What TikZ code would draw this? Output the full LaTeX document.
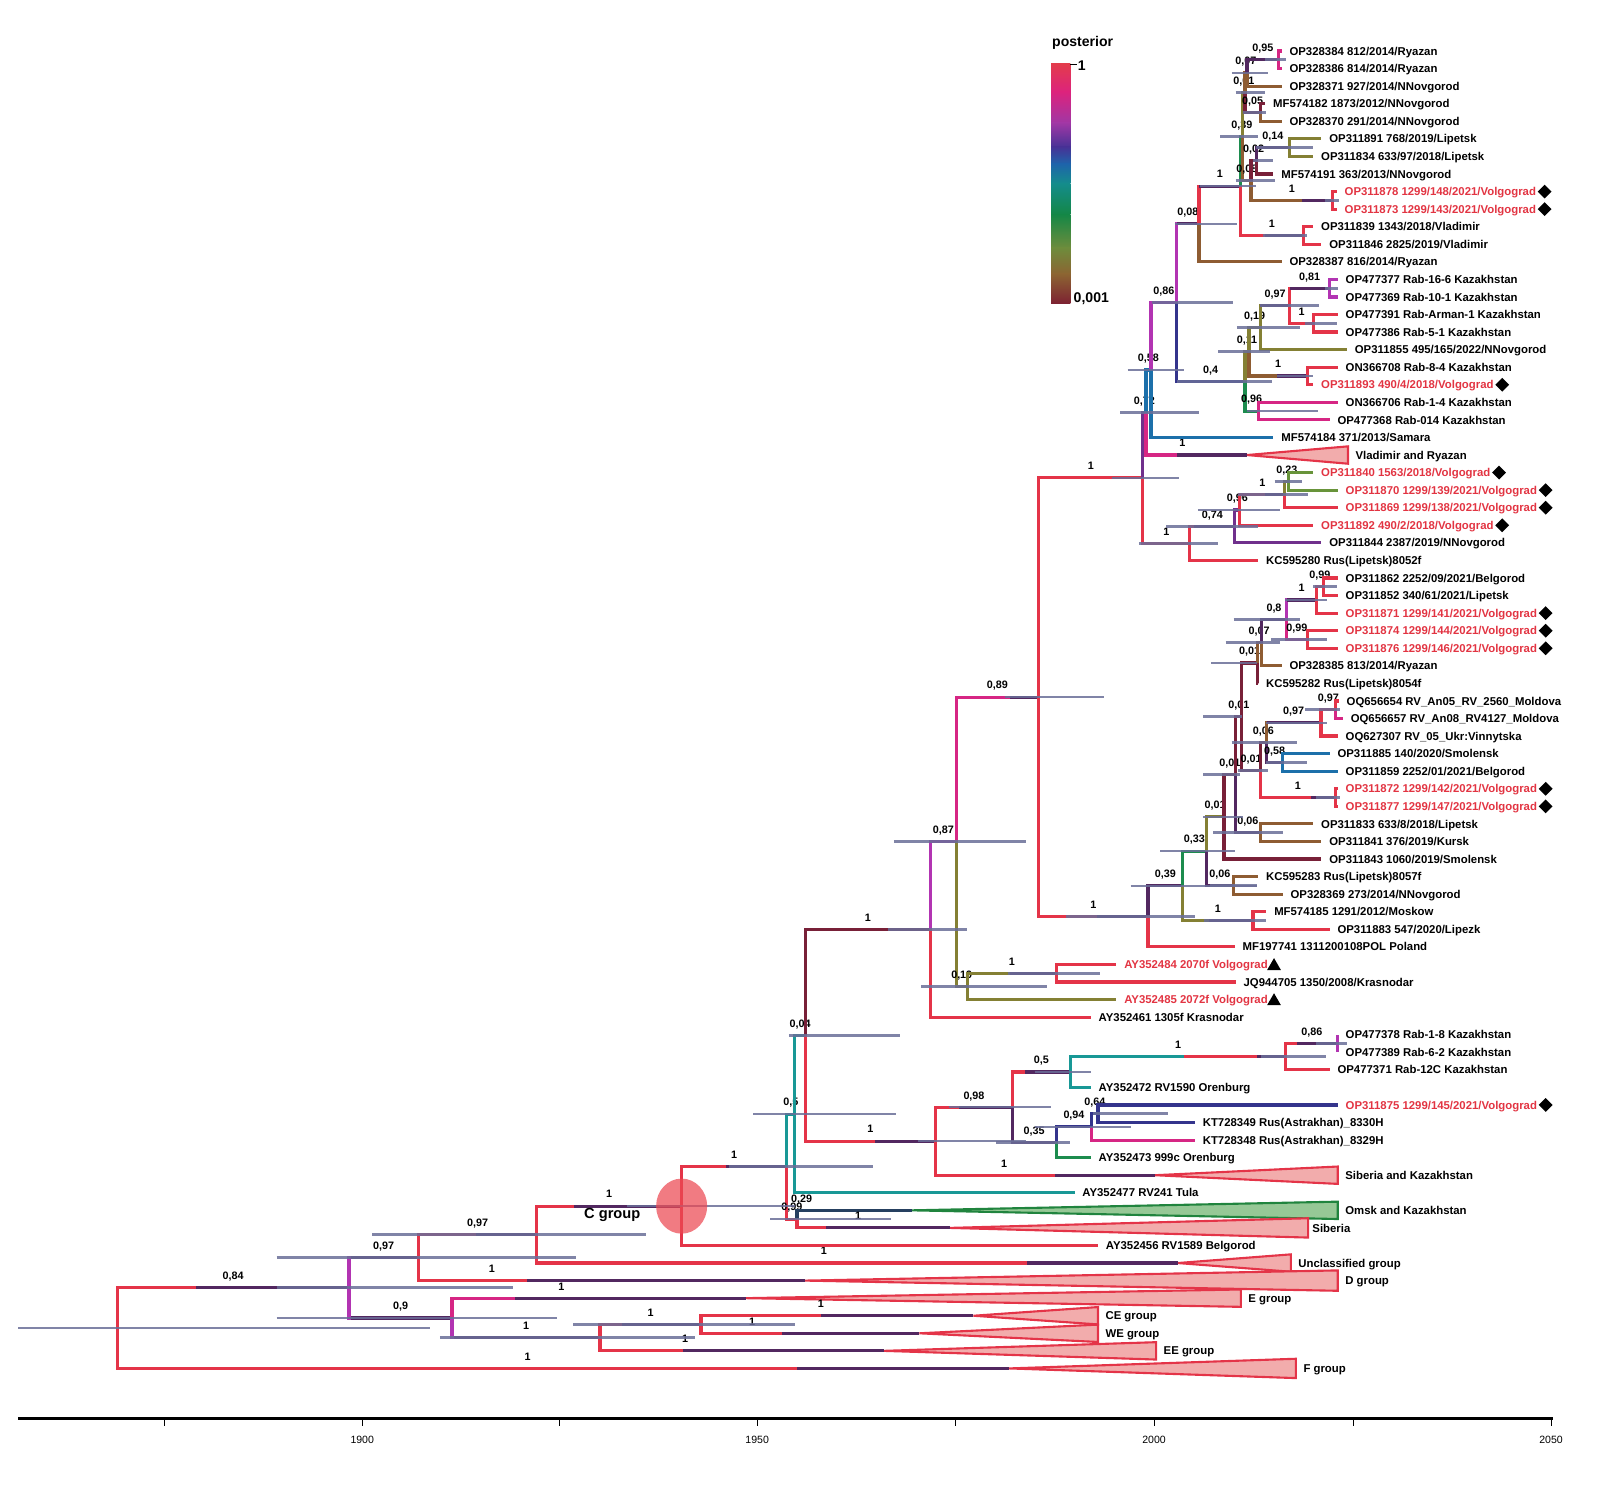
\documentclass[tikz,border=0pt]{standalone}
\usepackage{fontspec}
\setmainfont{Liberation Sans}
\usetikzlibrary{positioning, shapes.geometric}

\definecolor{cred}{RGB}{228,52,72}
\definecolor{cmag}{RGB}{214,38,132}
\definecolor{cpur}{RGB}{178,52,178}
\definecolor{cviol}{RGB}{112,48,140}
\definecolor{cdark}{RGB}{82,40,96}
\definecolor{cindigo}{RGB}{52,52,140}
\definecolor{cblue}{RGB}{28,112,170}
\definecolor{cteal}{RGB}{24,152,150}
\definecolor{cgreen}{RGB}{28,140,78}
\definecolor{cygreen}{RGB}{104,148,58}
\definecolor{colive}{RGB}{132,128,52}
\definecolor{cbrown}{RGB}{142,92,50}
\definecolor{cmaroon}{RGB}{120,32,56}
\definecolor{cnavy}{RGB}{38,64,96}
\definecolor{hpdc}{RGB}{106,110,152}
\definecolor{tripink}{RGB}{242,172,172}
\definecolor{trigreen}{RGB}{150,200,150}
\definecolor{trigreenl}{RGB}{32,132,62}
\definecolor{lblred}{RGB}{226,52,66}
\definecolor{cgrpfill}{RGB}{236,72,82}
\definecolor{k0}{RGB}{227,60,75}
\definecolor{k1}{RGB}{220,35,125}
\definecolor{k2}{RGB}{160,55,165}
\definecolor{k3}{RGB}{70,50,150}
\definecolor{k4}{RGB}{30,100,170}
\definecolor{k5}{RGB}{20,140,140}
\definecolor{k6}{RGB}{20,135,70}
\definecolor{k7}{RGB}{110,140,60}
\definecolor{k8}{RGB}{140,100,50}
\definecolor{k9}{RGB}{125,35,50}

\newcommand{\lblfont}{\fontsize{9.7}{11.6}\selectfont\bfseries}
\newcommand{\postfont}{\fontsize{9.2}{11}\selectfont\bfseries}

\tikzset{
  br/.style={line width=2.7pt, draw=#1},
  hpd/.style={line width=2.3pt, draw=hpdc, draw opacity=0.85},
  lbl/.style={font=\lblfont, inner sep=0pt, anchor=west, text height=7pt, text depth=0pt},
  post/.style={font=\postfont, pos=0.75, anchor=south, inner sep=0pt, yshift=5.6pt, text height=6.6pt, text depth=0pt},
  clade/.style={fill=tripink, draw=cred, line width=1.8pt},
  cladeg/.style={fill=trigreen, draw=trigreenl, line width=1.8pt},
  dmd/.style={diamond, fill=black, inner sep=0pt, minimum width=0.42cm, minimum height=0.42cm},
  tri/.style={regular polygon, regular polygon sides=3, fill=black, inner sep=0pt, minimum size=0.48cm, yshift=-0.05cm}
}

% tip: [label options]{parent}{name}{x end}{row}{colour}{text}
\newcommand{\leaf}[7][]{%
  \coordinate (#3) at (#4,#5);
  \draw[br=#6] (#2) |- (#3);
  \node[lbl,#1,right=0.23cm of #3] (#3l) {#7};}
% collapsed clade: [style]{name}{x apex}{x right}{row}{half height}
\newcommand{\clade}[6][clade]{%
  \coordinate (#2) at (#3,#5);
  \coordinate (#2e) at (#4,#5);
  \filldraw[#1] (#2) -- (#4,{#5-#6}) -- (#4,{#5+#6}) -- cycle;}
% node height bar
\newcommand{\hpd}[3]{\draw[hpd] (#2,0 |- #1) -- (#3,0 |- #1);}

\begin{document}
\begin{tikzpicture}[x=0.0306cm, y=-0.0306cm]
\useasboundingbox (0,0) rectangle (1568,1467);

\begin{scope}[x=0.0306cm, y=-0.52663cm, yshift=-1.00337cm]
% internal nodes (x, row)
\coordinate (root) at (115,73.7);
\coordinate (A) at (342,71.41);
\coordinate (B) at (410,69.69);
\coordinate (C) at (526,68.38);
\coordinate (J) at (668,66.76);
\coordinate (K) at (771,64.51);
\coordinate (L) at (779,61.52);
\coordinate (M) at (781,67.5);
\coordinate (N) at (789,57.03);
\coordinate (X) at (912,51.0);
\coordinate (Y) at (937,46.0);
\coordinate (Z) at (1018,37.78);
\coordinate (AA) at (948,54.25);
\coordinate (AB) at (1035,53.5);
\coordinate (AC) at (1120,25.3);
\coordinate (AD) at (1125,50.26);
\coordinate (AE) at (1123,21.58);
\coordinate (AF) at (1166,29.03);
\coordinate (AG) at (1210,28.06);
\coordinate (AH) at (1215,27.125);
\coordinate (AI) at (1259,26.25);
\coordinate (AJ) at (1263,25.5);
\coordinate (AK) at (1128,19.16);
\coordinate (AL) at (1153,15.33);
\coordinate (AM) at (1175,10.84);
\coordinate (AN) at (1220,19.81);
\coordinate (AO) at (1216,8.69);
\coordinate (AQ) at (1277,11.5);
\coordinate (BE) at (1218,5.875);
\coordinate (BC) at (1220,3.375);
\coordinate (BB) at (1222,2.25);
\coordinate (BA) at (1253,1.5);
\coordinate (BD) at (1235,4.5);
\coordinate (BI) at (1226,8.375);
\coordinate (BH) at (1231,7.25);
\coordinate (BG) at (1264,6.5);
\coordinate (BJ) at (1306,9.5);
\coordinate (AS) at (1224,18.125);
\coordinate (AT) at (1233,21.5);
\coordinate (AU) at (1235,16.75);
\coordinate (AV) at (1281,19.5);
\coordinate (AW) at (1264,15.5);
\coordinate (AX) at (1303,14.5);
\coordinate (AY) at (1287,16.5);
\coordinate (BK) at (1159,48.53);
\coordinate (BL) at (1182,46.55);
\coordinate (BM) at (1228,50.5);
\coordinate (BN) at (1199.5,44.6);
\coordinate (BO) at (1209,48.5);
\coordinate (CG) at (1211,42.2);
\coordinate (BQ) at (1235,45.5);
\coordinate (CD) at (1217,38.89);
\coordinate (CC) at (1232,35.84);
\coordinate (CE) at (1235,41.94);
\coordinate (CA) at (1236,34.69);
\coordinate (CB) at (1261,33.375);
\coordinate (CL) at (1290,32.25);
\coordinate (CN) at (1297,31.5);
\coordinate (CM) at (1281,34.5);
\coordinate (CF) at (1241,40.375);
\coordinate (CK) at (1309,43.5);
\coordinate (CH) at (1294.5,39.25);
\coordinate (CJ) at (1309,38.5);
\coordinate (CI) at (1257,41.5);
\coordinate (P) at (917,63.06);
\coordinate (Q) at (992,61.125);
\coordinate (R) at (1049,59.125);
\coordinate (T) at (1260,58.25);
\coordinate (U) at (1311,57.5);
\coordinate (S) at (1035,63.125);
\coordinate (V) at (1070,62.25);
\coordinate (W) at (1076,61.5);
\coordinate (G) at (443,73.125);
\coordinate (H) at (588,74.25);
\coordinate (I) at (687,73.5);

% collapsed clades
\clade{t24}{1222}{1321}{24}{0.494}
\clade{t65}{1132}{1311}{65}{0.494}
\clade[cladeg]{t67}{894}{1311}{67}{0.494}
\clade{t68}{931}{1282}{68}{0.55}
\clade{t70}{1154}{1265}{70}{0.494}
\clade{t71}{789}{1311}{71}{0.58}
\clade{t72}{731}{1216}{72}{0.494}
\clade{t73}{954}{1076}{73}{0.494}
\clade{t74}{901}{1076}{74}{0.494}
\clade{t75}{866}{1133}{75}{0.494}
\clade{t76}{989}{1270}{76}{0.55}
\node[lbl, right=0.22cm of t24e] (t24l) {Vladimir and Ryazan};
\node[lbl, right=0.22cm of t65e] (t65l) {Siberia and Kazakhstan};
\node[lbl, right=0.22cm of t67e] (t67l) {Omsk and Kazakhstan};
\node[lbl, right=0.12cm of t68e] (t68l) {Siberia};
\node[lbl, right=0.22cm of t70e] (t70l) {Unclassified group};
\node[lbl, right=0.22cm of t71e] (t71l) {D group};
\node[lbl, right=0.22cm of t72e] (t72l) {E group};
\node[lbl, right=0.22cm of t73e] (t73l) {CE group};
\node[lbl, right=0.22cm of t74e] (t74l) {WE group};
\node[lbl, right=0.22cm of t75e] (t75l) {EE group};
\node[lbl, right=0.22cm of t76e] (t76l) {F group};

% backbone
\draw[br=cred] (root) |- (A) node[post] {0,84};
\draw[br=cdark] (A) -- ++(-150,0);
\draw[br=cred] (root) |- (t76) node[post,pos=0.73] {1};
\draw[br=cdark] (t76) -- ++(-208,0);
\draw[br=cpur] (A) |- (B) node[post] {0,97};
\draw[br=cdark] (B) -- ++(-66,0);
\draw[br=cpur] (A) |- (G) node[post] {0,9};
\draw[br=cdark] (G) -- ++(-99,0);
\draw[br=cred] (B) |- (C) node[post] {0,97};
\draw[br=cdark] (C) -- ++(-60,0);
\draw[br=cred] (B) |- (t71) node[post,pos=0.595] {1};
\draw[br=cdark] (t71) -- ++(-273,0);
\draw[br=cred] (C) |- (J) node[post] {1};
\draw[br=cdark] (J) -- ++(-105,0);
\draw[br=cred] (C) |- (t70) node[post,pos=0.724] {1};
\draw[br=cdark] (t70) -- ++(-148,0);
\draw[br=cmag] (G) |- (t72) node[post,pos=0.686] {1};
\draw[br=cdark] (t72) -- ++(-226,0);
\draw[br=cpur] (G) |- (H) node[post] {1};
\draw[br=cdark] (H) -- ++(-143,0);
\draw[br=cred] (H) |- (I) node[post] {1};
\draw[br=cdark] (I) -- ++(-77,0);
\draw[br=cred] (H) |- (t75) node[post,pos=0.65] {1};
\draw[br=cdark] (t75) -- ++(-197,0);
\draw[br=cred] (I) |- (t73) node[post,pos=0.72] {1};
\draw[br=cdark] (t73) -- ++(-149,0);
\draw[br=cred] (I) |- (t74) node[post,pos=0.617] {1};
\draw[br=cdark] (t74) -- ++(-135,0);

% C group
\draw[br=cred] (J) |- (K) node[post] {1};
\draw[br=cdark] (K) -- ++(-60,0);
\leaf{J}{t69}{1076}{69}{cred}{AY352456 RV1589 Belgorod}
\draw[br=cteal] (K) |- (L) node[post] {0,5};
\draw[br=cred] (K) |- (M) node[post] {0,99};
\draw[br=cnavy] (M) |- (t67) node[post,pos=0.52] {0,29};
\draw[br=cred] (M) |- (t68) node[post,pos=0.7] {1};
\draw[br=cdark] (t68) -- ++(-122,0);
\draw[br=cteal] (L) |- (N) node[post] {0,04};
\leaf{L}{t66}{1053}{66}{cteal}{AY352477 RV241 Tula}
\draw[br=cmaroon] (N) |- (X) node[post] {1};
\draw[br=cred] (N) |- (P) node[post] {1};
\draw[br=cdark] (P) -- ++(-60,0);

% Krasnodar and Volgograd 2000s
\draw[br=cpur] (X) |- (Y) node[post] {0,87};
\leaf{X}{t56}{1069}{56}{cred}{AY352461 1305f Krasnodar}
\draw[br=cmag] (Y) |- (Z) node[post] {0,89};
\draw[br=cdark] (Z) -- ++(-28,0);
\draw[br=colive] (Y) |- (AA) node[post] {0,19};
\draw[br=colive] (AA) |- (AB) node[post] {1};
\draw[br=cdark] (AB) -- ++(-45,0);
\leaf[text=lblred]{AB}{t53}{1094}{53}{cred}{AY352484 2070f Volgograd}
\node[tri, right=1pt of t53l] (t53m) {};
\leaf{AB}{t54}{1211}{54}{cred}{JQ944705 1350/2008/Krasnodar}
\leaf[text=lblred]{AA}{t55}{1094}{55}{colive}{AY352485 2072f Volgograd}
\node[tri, right=1pt of t55l] (t55m) {};

% upper clade
\draw[br=cred] (Z) |- (AC) node[post] {1};
\draw[br=cred] (Z) |- (AD) node[post] {1};
\draw[br=cdark] (AD) -- ++(-50,0);
\draw[br=cviol] (AC) |- (AE) node[post] {0,72};
\draw[br=cred] (AC) |- (AF) node[post] {1};
\draw[br=cblue] (AE) |- (AK) node[post] {0,58};
\draw[br=cmag] (AE) |- (t24) node[post,pos=0.68] {1};
\draw[br=cdark] (t24) -- ++(-69,0);
\draw[br=cpur] (AK) |- (AL) node[post] {0,86};
\leaf{AK}{t23}{1248}{23}{cblue}{MF574184 371/2013/Samara}
\draw[br=cpur] (AL) |- (AM) node[post] {0,08};
\draw[br=cdark] (AM) -- ++(-22,0);
\draw[br=cindigo] (AL) |- (AN) node[post] {0,4};
\draw[br=cred] (AM) |- (AO) node[post] {1};
\draw[br=cdark] (AO) -- ++(-41,0);
\leaf{AM}{t13}{1256}{13}{cbrown}{OP328387 816/2014/Ryazan}
\draw[br=cgreen] (AO) |- (BE) node[post] {0,39};
\draw[br=cred] (AO) |- (AQ) node[post] {1};
\draw[br=cdark] (AQ) -- ++(-37,0);
\leaf{AQ}{t11}{1287}{11}{cred}{OP311839 1343/2018/Vladimir}
\leaf{AQ}{t12}{1295}{12}{cred}{OP311846 2825/2019/Vladimir}
\draw[br=colive] (BE) |- (BC) node[post] {0,01};
\draw[br=cbrown] (BE) |- (BI) node[post] {0,08};
\draw[br=cbrown] (BC) |- (BB) node[post] {0,07};
\draw[br=cmaroon] (BC) |- (BD) node[post] {0,05};
\draw[br=cdark] (BB) |- (BA) node[post] {0,95};
\leaf{BA}{t1}{1256}{1}{cmag}{OP328384 812/2014/Ryazan}
\leaf{BA}{t2}{1256}{2}{cmag}{OP328386 814/2014/Ryazan}
\leaf{BB}{t3}{1256}{3}{cbrown}{OP328371 927/2014/NNovgorod}
\leaf{BD}{t4}{1240}{4}{cmaroon}{MF574182 1873/2012/NNovgorod}
\leaf{BD}{t5}{1256}{5}{cbrown}{OP328370 291/2014/NNovgorod}
\draw[br=cmaroon] (BI) |- (BH) node[post] {0,02};
\draw[br=cbrown] (BI) |- (BJ) node[post] {1};
\draw[br=cdark] (BJ) -- ++(-30,0);
\draw[br=cdark] (BH) |- (BG) node[post] {0,14};
\leaf{BG}{t6}{1295}{6}{colive}{OP311891 768/2019/Lipetsk}
\leaf{BG}{t7}{1287}{7}{colive}{OP311834 633/97/2018/Lipetsk}
\leaf{BH}{t8}{1248}{8}{cmaroon}{MF574191 363/2013/NNovgorod}
\leaf[text=lblred]{BJ}{t9}{1310}{9}{cred}{OP311878 1299/148/2021/Volgograd}
\node[dmd, right=1pt of t9l] (t9m) {};
\leaf[text=lblred]{BJ}{t10}{1310}{10}{cred}{OP311873 1299/143/2021/Volgograd}
\node[dmd, right=1pt of t10l] (t10m) {};
\draw[br=colive] (AN) |- (AS) node[post] {0,11};
\draw[br=cgreen] (AN) |- (AT) node[post] {0,96};
\draw[br=colive] (AS) |- (AU) node[post] {0,19};
\draw[br=cbrown] (AS) |- (AV) node[post] {1};
\draw[br=cdark] (AV) -- ++(-30,0);
\draw[br=colive] (AU) |- (AW) node[post] {0,97};
\draw[br=cdark] (AW) -- ++(-29,0);
\leaf{AU}{t18}{1320}{18}{colive}{OP311855 495/165/2022/NNovgorod}
\draw[br=cred] (AW) |- (AX) node[post] {0,81};
\draw[br=cdark] (AX) -- ++(-39,0);
\draw[br=cred] (AW) |- (AY) node[post] {1};
\leaf{AX}{t14}{1311}{14}{cpur}{OP477377 Rab-16-6 Kazakhstan}
\leaf{AX}{t15}{1311}{15}{cpur}{OP477369 Rab-10-1 Kazakhstan}
\leaf{AY}{t16}{1311}{16}{cred}{OP477391 Rab-Arman-1 Kazakhstan}
\leaf{AY}{t17}{1311}{17}{cred}{OP477386 Rab-5-1 Kazakhstan}
\leaf{AV}{t19}{1311}{19}{cred}{ON366708 Rab-8-4 Kazakhstan}
\leaf[text=lblred]{AV}{t20}{1287}{20}{cred}{OP311893 490/4/2018/Volgograd}
\node[dmd, right=1pt of t20l] (t20m) {};
\leaf{AT}{t21}{1311}{21}{cmag}{ON366706 Rab-1-4 Kazakhstan}
\leaf{AT}{t22}{1303}{22}{cmag}{OP477368 Rab-014 Kazakhstan}
\draw[br=cred] (AF) |- (AG) node[post] {0,74};
\draw[br=cdark] (AG) -- ++(-40,0);
\leaf{AF}{t30}{1233}{30}{cred}{KC595280 Rus(Lipetsk)8052f}
\draw[br=cviol] (AG) |- (AH) node[post] {0,96};
\leaf{AG}{t29}{1295}{29}{cviol}{OP311844 2387/2019/NNovgorod}
\draw[br=cred] (AH) |- (AI) node[post] {1};
\draw[br=cdark] (AI) -- ++(-19,0);
\leaf[text=lblred]{AH}{t28}{1287}{28}{cred}{OP311892 490/2/2018/Volgograd}
\node[dmd, right=1pt of t28l] (t28m) {};
\draw[br=colive] (AI) |- (AJ) node[post] {0,23};
\leaf[text=lblred]{AI}{t27}{1311}{27}{cred}{OP311869 1299/138/2021/Volgograd}
\node[dmd, right=1pt of t27l] (t27m) {};
\leaf[text=lblred]{AJ}{t25}{1287}{25}{cygreen}{OP311840 1563/2018/Volgograd}
\node[dmd, right=1pt of t25l] (t25m) {};
\leaf[text=lblred]{AJ}{t26}{1311}{26}{cygreen}{OP311870 1299/139/2021/Volgograd}
\node[dmd, right=1pt of t26l] (t26m) {};

% middle clade
\draw[br=cdark] (AD) |- (BK) node[post] {0,39};
\leaf{AD}{t52}{1210}{52}{cred}{MF197741 1311200108POL Poland}
\draw[br=cgreen] (BK) |- (BL) node[post] {0,33};
\draw[br=colive] (BK) |- (BM) node[post] {1};
\draw[br=cdark] (BM) -- ++(-43,0);
\leaf{BM}{t50}{1241}{50}{cred}{MF574185 1291/2012/Moskow}
\leaf{BM}{t51}{1303}{51}{cred}{OP311883 547/2020/Lipezk}
\draw[br=colive] (BL) |- (BN) node[post] {0,01};
\draw[br=cdark] (BL) |- (BO) node[post] {0,06};
\leaf{BO}{t48}{1233}{48}{cbrown}{KC595283 Rus(Lipetsk)8057f}
\leaf{BO}{t49}{1257}{49}{cbrown}{OP328369 273/2014/NNovgorod}
\draw[br=cmaroon] (BN) |- (CG) node[post] {0,01};
\leaf{BN}{t47}{1295}{47}{cmaroon}{OP311843 1060/2019/Smolensk}
\draw[br=cmaroon] (CG) |- (CD) node[post] {0,01};
\draw[br=cdark] (CG) |- (BQ) node[post] {0,06};
\leaf{BQ}{t45}{1287}{45}{cbrown}{OP311833 633/8/2018/Lipetsk}
\leaf{BQ}{t46}{1295}{46}{cbrown}{OP311841 376/2019/Kursk}
\draw[br=cmaroon] (CD) |- (CC) node[post] {0,01};
\draw[br=cmaroon] (CD) |- (CE) node[post] {0,01};
\draw[br=cbrown] (CC) |- (CA) node[post] {0,07};
\leaf{CC}{t37}{1233}{37}{cmaroon}{KC595282 Rus(Lipetsk)8054f}
\draw[br=cdark] (CA) |- (CB) node[post] {0,8};
\leaf{CA}{t36}{1256}{36}{cbrown}{OP328385 813/2014/Ryazan}
\draw[br=cpur] (CB) |- (CL) node[post] {1};
\draw[br=cdark] (CL) -- ++(-29,0);
\draw[br=cmag] (CB) |- (CM) node[post] {0,99};
\draw[br=cred] (CL) |- (CN) node[post] {0,99};
\leaf{CN}{t31}{1311}{31}{cred}{OP311862 2252/09/2021/Belgorod}
\leaf{CN}{t32}{1311}{32}{cred}{OP311852 340/61/2021/Lipetsk}
\leaf[text=lblred]{CL}{t33}{1311}{33}{cred}{OP311871 1299/141/2021/Volgograd}
\node[dmd, right=1pt of t33l] (t33m) {};
\leaf[text=lblred]{CM}{t34}{1311}{34}{cred}{OP311874 1299/144/2021/Volgograd}
\node[dmd, right=1pt of t34l] (t34m) {};
\leaf[text=lblred]{CM}{t35}{1311}{35}{cred}{OP311876 1299/146/2021/Volgograd}
\node[dmd, right=1pt of t35l] (t35m) {};
\draw[br=cmaroon] (CE) |- (CF) node[post] {0,06};
\draw[br=cred] (CE) |- (CK) node[post] {1};
\draw[br=cdark] (CK) -- ++(-24,0);
\leaf[text=lblred]{CK}{t43}{1311}{43}{cred}{OP311872 1299/142/2021/Volgograd}
\node[dmd, right=1pt of t43l] (t43m) {};
\leaf[text=lblred]{CK}{t44}{1311}{44}{cred}{OP311877 1299/147/2021/Volgograd}
\node[dmd, right=1pt of t44l] (t44m) {};
\draw[br=cbrown] (CF) |- (CH) node[post] {0,97};
\draw[br=cdark] (CH) -- ++(-53,0);
\draw[br=cdark] (CF) |- (CI) node[post] {0,58};
\draw[br=cred] (CH) |- (CJ) node[post] {0,97};
\leaf{CJ}{t38}{1312}{38}{cred}{OQ656654 RV\_An05\_RV\_2560\_Moldova}
\leaf{CJ}{t39}{1316}{39}{cmag}{OQ656657 RV\_An08\_RV4127\_Moldova}
\leaf{CH}{t40}{1311}{40}{cred}{OQ627307 RV\_05\_Ukr:Vinnytska}
\leaf{CI}{t41}{1303}{41}{cblue}{OP311885 140/2020/Smolensk}
\leaf{CI}{t42}{1311}{42}{cblue}{OP311859 2252/01/2021/Belgorod}

% lower clade
\draw[br=cred] (P) |- (Q) node[post] {0,98};
\draw[br=cdark] (Q) -- ++(-52,0);
\draw[br=cred] (P) |- (t65) node[post,pos=0.656] {1};
\draw[br=cdark] (t65) -- ++(-98,0);
\draw[br=cred] (Q) |- (R) node[post] {0,5};
\draw[br=cdark] (R) -- ++(-45,0);
\draw[br=cdark] (Q) |- (S) node[post] {0,35};
\draw[br=cteal] (R) |- (T) node[post] {1};
\draw[br=cred] (T) -- ++(-100,0);
\draw[br=cdark] (T) -- ++(-28,0);
\leaf{R}{t60}{1069}{60}{cteal}{AY352472 RV1590 Orenburg}
\draw[br=cred] (T) |- (U) node[post] {0,86};
\draw[br=cdark] (U) -- ++(-40,0);
\leaf{T}{t59}{1303}{59}{cred}{OP477371 Rab-12C Kazakhstan}
\leaf{U}{t57}{1311}{57}{cpur}{OP477378 Rab-1-8 Kazakhstan}
\leaf{U}{t58}{1311}{58}{cpur}{OP477389 Rab-6-2 Kazakhstan}
\draw[br=cindigo] (S) |- (V) node[post] {0,94};
\leaf{S}{t64}{1069}{64}{cgreen}{AY352473 999c Orenburg}
\draw[br=cindigo] (V) |- (W) node[post] {0,64};
\leaf{V}{t63}{1171}{63}{cmag}{KT728348 Rus(Astrakhan)\_8329H}
\leaf[text=lblred]{W}{t61}{1311}{61}{cindigo}{OP311875 1299/145/2021/Volgograd}
\node[dmd, right=1pt of t61l] (t61m) {};
\leaf{W}{t62}{1171}{62}{cindigo}{KT728349 Rus(Astrakhan)\_8330H}

% node height bars
\hpd{root}{18}{421} \hpd{A}{271}{503} \hpd{B}{271}{564} \hpd{C}{365}{633}
\hpd{G}{271}{546} \hpd{H}{431}{681} \hpd{I}{562}{779} \hpd{J}{614}{779}
\hpd{K}{714}{856} \hpd{L}{738}{878} \hpd{M}{755}{873} \hpd{N}{773}{882}
\hpd{X}{870}{948} \hpd{Y}{876}{1005} \hpd{Z}{985}{1082} \hpd{AA}{903}{1026}
\hpd{AB}{988}{1078} \hpd{P}{900}{1005} \hpd{Q}{930}{1030} \hpd{R}{1014}{1069}
\hpd{S}{976}{1049} \hpd{T}{1236}{1299} \hpd{U}{1290}{1320} \hpd{V}{1014}{1108}
\hpd{W}{1071}{1145} \hpd{AC}{1090}{1155} \hpd{AD}{1045}{1171} \hpd{AE}{1098}{1175}
\hpd{AF}{1116}{1194} \hpd{AG}{1143}{1233} \hpd{AH}{1174}{1254} \hpd{AI}{1213}{1282}
\hpd{AJ}{1249}{1276} \hpd{AK}{1105}{1160} \hpd{AL}{1129}{1208} \hpd{AM}{1151}{1212}
\hpd{AN}{1153}{1247} \hpd{AO}{1176}{1231} \hpd{AQ}{1238}{1281} \hpd{AS}{1194}{1245}
\hpd{AT}{1222}{1292} \hpd{AU}{1212}{1274} \hpd{AV}{1251}{1287} \hpd{AW}{1235}{1293}
\hpd{AX}{1298}{1311} \hpd{AY}{1279}{1310} \hpd{BA}{1240}{1260} \hpd{BB}{1207}{1243}
\hpd{BC}{1211}{1240} \hpd{BD}{1218}{1241} \hpd{BE}{1196}{1233} \hpd{BG}{1231}{1287}
\hpd{BH}{1228}{1248} \hpd{BI}{1211}{1249} \hpd{BJ}{1298}{1312} \hpd{BK}{1108}{1232}
\hpd{BL}{1137}{1210} \hpd{BM}{1180}{1241} \hpd{BN}{1179}{1218} \hpd{BO}{1186}{1232}
\hpd{BQ}{1189}{1257} \hpd{CG}{1179}{1215} \hpd{CD}{1179}{1217} \hpd{CC}{1187}{1232}
\hpd{CA}{1201}{1254} \hpd{CB}{1209}{1274} \hpd{CL}{1259}{1300} \hpd{CM}{1246}{1300}
\hpd{CN}{1287}{1310} \hpd{CE}{1213}{1243} \hpd{CF}{1207}{1271} \hpd{CH}{1241}{1300}
\hpd{CJ}{1279}{1313} \hpd{CI}{1241}{1281} \hpd{CK}{1290}{1313}

% C group marker
\fill[cgrpfill, fill opacity=0.72] (J) ellipse [x radius=0.765cm, y radius=0.826cm];
\end{scope}

\node[font=\fontsize{12.5}{14}\selectfont\bfseries, inner sep=0pt] (cgroup) at (600,1191) {C group};

% legend
\shade[top color=k0, bottom color=k1] (1030,62) rectangle (1049,90.5);
\shade[top color=k1, bottom color=k2] (1030,90) rectangle (1049,121);
\shade[top color=k2, bottom color=k3] (1030,120.5) rectangle (1049,144.5);
\shade[top color=k3, bottom color=k4] (1030,144) rectangle (1049,161);
\shade[top color=k4, bottom color=k5] (1030,160.5) rectangle (1049,180);
\shade[top color=k5, bottom color=k6] (1030,179.5) rectangle (1049,210.5);
\shade[top color=k6, bottom color=k7] (1030,210) rectangle (1049,243.5);
\shade[top color=k7, bottom color=k8] (1030,243) rectangle (1049,269);
\shade[top color=k8, bottom color=k9] (1030,268.5) rectangle (1049,297);
\draw[line width=0.6pt] (1049,63) -- (1055,63);
\node[font=\fontsize{12}{14}\selectfont\bfseries, inner sep=0pt] (legtitle) at (1061,42) {posterior};
\node[font=\fontsize{12}{14}\selectfont\bfseries, inner sep=0pt, anchor=west] (legtop) at (1056,64) {1};
\node[font=\fontsize{12}{14}\selectfont\bfseries, inner sep=0pt, anchor=west] (legbot) at (1052,293) {0,001};

% time axis
\draw[line width=2.4pt] (18,1390) -- (1522,1390);
\foreach \x in {161,355,548,742,936,1131,1326,1520}
  \draw[line width=0.8pt] (\x,1390) -- (\x,1397);
\foreach \x/\yr in {355/1900,742/1950,1131/2000,1520/2050}
  \node[font=\fontsize{9}{11}\selectfont, inner sep=0pt] (yr\yr) at (\x,1411) {\yr};
\end{tikzpicture}
\end{document}
